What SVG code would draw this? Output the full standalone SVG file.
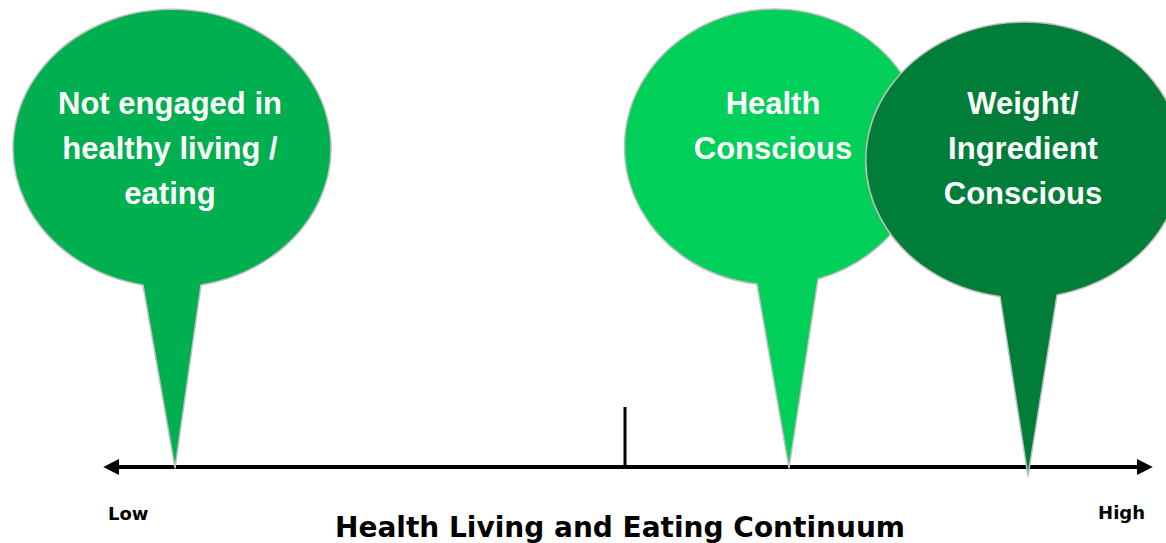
<svg xmlns="http://www.w3.org/2000/svg" width="1166" height="543" viewBox="0 0 1166 543">
  <defs>
    <style>
      .balloon { stroke: #BFBFBF; stroke-width: 1.5; stroke-linejoin: round; }
      .btext { font-family: "Liberation Sans", Arial, sans-serif; font-weight: bold; font-size: 31px; fill: #FFFFFF; text-anchor: middle; }
      .axis { stroke: #000000; stroke-width: 4; fill: none; }
      .lbl { font-family: "DejaVu Sans", Verdana, sans-serif; font-weight: bold; fill: #000000; }
    </style>
    <marker id="arrow" viewBox="0 0 10 10" refX="2" refY="5" markerWidth="4" markerHeight="4" orient="auto-start-reverse" markerUnits="strokeWidth">
      <path d="M0,0 L10,5 L0,10 Z" fill="#000000"/>
    </marker>
  </defs>
  <rect width="1166" height="543" fill="#FFFFFF"/>

  <g id="connectors">
    <line class="axis" x1="116" y1="467" x2="1140" y2="467" marker-start="url(#arrow)" marker-end="url(#arrow)"/>
    <line x1="625" y1="407" x2="625" y2="467" stroke="#000000" stroke-width="3"/>
  </g>

  <g id="node-not-engaged">
    <path class="balloon" fill="#00B050" d="M 201,285 A 159 139 0 1 0 143,285 L 175,468 Z"/>
    <text class="btext" x="170" y="114">Not engaged in</text>
    <text class="btext" x="170" y="159">healthy living /</text>
    <text class="btext" x="170" y="204">eating</text>
  </g>

  <g id="node-health-conscious">
    <path class="balloon" fill="#00D05A" d="M 818,279 A 150 138 0 1 0 757,284 L 789,468 Z"/>
    <text class="btext" x="773" y="114">Health</text>
    <text class="btext" x="773" y="159">Conscious</text>
  </g>

  <g id="node-weight-ingredient">
    <path class="balloon" fill="#007E39" d="M 1057,295 A 158 138 0 1 0 1000,296.5 L 1028,476 Z"/>
    <text class="btext" x="1023" y="114">Weight/</text>
    <text class="btext" x="1023" y="159">Ingredient</text>
    <text class="btext" x="1023" y="204">Conscious</text>
  </g>

  <g id="labels">
    <text class="lbl" x="108" y="520" font-size="18">Low</text>
    <text class="lbl" x="1145" y="519" font-size="18" text-anchor="end">High</text>
    <text class="lbl" x="620" y="537" font-size="28" text-anchor="middle">Health Living and Eating Continuum</text>
  </g>
</svg>
